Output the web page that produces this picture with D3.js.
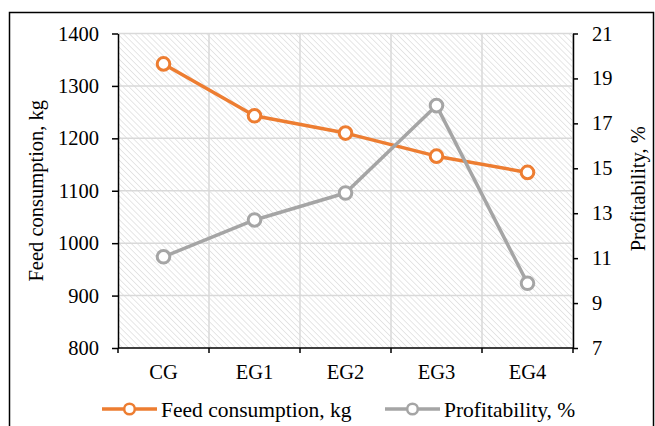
<!DOCTYPE html>
<html>
<head>
<meta charset="utf-8">
<script src="https://cdn.jsdelivr.net/npm/d3@7"></script>
<style>
  body { margin: 0; background: #fff; }
  text { font-family: "Liberation Serif", "Times New Roman", serif; fill: #000; }
</style>
</head>
<body>
<div id="chart"></div>
<script>
// data
const groups = ["CG", "EG1", "EG2", "EG3", "EG4"];
const feed = [1342, 1243, 1210, 1166, 1135]; // Feed consumption, kg
const profit = [11.06, 12.70, 13.90, 17.79, 9.88]; // Profitability, %
const leftTicks = [800, 900, 1000, 1100, 1200, 1300, 1400];
const rightTicks = [7, 9, 11, 13, 15, 17, 19, 21];

let settings = {
  width: 655,
  height: 426,
  marginTop: 33.5,
  marginRight: 82, // plot ends at 573
  marginBottom: 78, // plot bottom at 348
  marginLeft: 118,
  orange: "#ED7D31",
  gray: "#A5A5A5",
  grid: "#d9d9d9",
  tickFont: 20.5,
  labelFont: 21.5,
};

function InitChart(conf) {
  const svg = d3.create("svg")
      .attr("width", conf.width)
      .attr("height", conf.height)
      .attr("viewBox", [0, 0, conf.width, conf.height]);

  // hatched plot background (downward diagonal)
  const defs = svg.append("defs");
  const pat = defs.append("pattern")
      .attr("id", "hatch")
      .attr("patternUnits", "userSpaceOnUse")
      .attr("width", 4.2).attr("height", 4.2)
      .attr("patternTransform", "rotate(-45)");
  pat.append("rect").attr("width", 4.2).attr("height", 4.2).attr("fill", "#fff");
  pat.append("line")
      .attr("x1", 0).attr("y1", 0).attr("x2", 0).attr("y2", 4.2)
      .attr("stroke", "#dadada").attr("stroke-width", 1.3);

  // outer frame
  svg.append("rect")
      .attr("x", 9.5).attr("y", 12.5)
      .attr("width", 644).attr("height", 430)
      .attr("fill", "#fff").attr("stroke", "#000").attr("stroke-width", 1.5);

  const x0 = conf.marginLeft, x1 = conf.width - conf.marginRight;
  const y0 = conf.height - conf.marginBottom, y1 = conf.marginTop;

  const xScale = d3.scaleBand(groups, [x0, x1]);
  const yLeft = d3.scaleLinear([800, 1400], [y0, y1]);
  const yRight = d3.scaleLinear([7, 21], [y0, y1]);

  svg.append("rect")
      .attr("x", x0).attr("y", y1)
      .attr("width", x1 - x0).attr("height", y0 - y1)
      .attr("fill", "url(#hatch)");

  // gridlines
  const grid = svg.append("g").attr("stroke", conf.grid).attr("stroke-width", 1.5);
  grid.selectAll(".h").data(leftTicks.slice(1)).join("line")
      .attr("x1", x0).attr("x2", x1)
      .attr("y1", d => yLeft(d)).attr("y2", d => yLeft(d));
  grid.selectAll(".v").data(d3.range(1, groups.length + 1)).join("line")
      .attr("x1", i => x0 + i * xScale.step())
      .attr("x2", i => x0 + i * xScale.step())
      .attr("y1", y1).attr("y2", y0);

  // axes
  const leftAxis = d3.axisLeft(yLeft).tickValues(leftTicks).tickFormat(d3.format("d"))
      .tickSize(6).tickPadding(13).tickSizeOuter(0);
  const rightAxis = d3.axisRight(yRight).tickValues(rightTicks).tickFormat(d3.format("d"))
      .tickSize(5).tickPadding(14).tickSizeOuter(0);
  const gl = svg.append("g").attr("transform", `translate(${x0},0)`).call(leftAxis);
  const gr = svg.append("g").attr("transform", `translate(${x1},0)`).call(rightAxis);

  const gx = svg.append("g").attr("transform", `translate(0,${y0})`)
      .call(d3.axisBottom(xScale).tickSize(0).tickPadding(16));
  // tick marks at band boundaries
  gx.selectAll(".bt").data(d3.range(groups.length + 1)).join("line")
      .attr("x1", i => x0 + i * xScale.step()).attr("x2", i => x0 + i * xScale.step())
      .attr("y1", 0).attr("y2", 5)
      .attr("stroke", "#000").attr("stroke-width", 1.5);

  [gl, gr, gx].forEach(g => {
    g.selectAll(".domain").attr("stroke", "#000").attr("stroke-width", 1.5);
    g.selectAll(".tick line").attr("stroke", "#000").attr("stroke-width", 1.5);
    g.selectAll("text")
        .attr("font-family", "Liberation Serif, Times New Roman, serif")
        .attr("font-size", conf.tickFont).attr("fill", "#000");
  });
  gx.select(".domain").attr("d", `M${x0},0H${x1}`);

  // axis titles
  svg.append("text")
      .attr("transform", `translate(43,${(y0 + y1) / 2}) rotate(-90)`)
      .attr("text-anchor", "middle")
      .attr("font-size", conf.tickFont)
      .text("Feed consumption, kg");
  svg.append("text")
      .attr("transform", `translate(645,${(y0 + y1) / 2 - 2}) rotate(-90)`)
      .attr("text-anchor", "middle")
      .attr("font-size", conf.tickFont)
      .text("Profitability, %");

  const cx = d => xScale(d) + xScale.bandwidth() / 2;

  function addSeries(values, yScale, color) {
    const line = d3.line()
        .x((d, i) => cx(groups[i]))
        .y(d => yScale(d));
    svg.append("path")
        .attr("d", line(values))
        .attr("fill", "none")
        .attr("stroke", color)
        .attr("stroke-width", 3.5)
        .attr("stroke-linejoin", "round");
    svg.append("g").selectAll("circle").data(values).join("circle")
        .attr("cx", (d, i) => cx(groups[i]))
        .attr("cy", d => yScale(d))
        .attr("r", 6.3)
        .attr("fill", "#fff")
        .attr("stroke", color)
        .attr("stroke-width", 3);
  }
  addSeries(feed, yLeft, conf.orange);
  addSeries(profit, yRight, conf.gray);

  // legend
  const legend = [
    { name: "Feed consumption, kg", color: conf.orange, x: 102 },
    { name: "Profitability, %", color: conf.gray, x: 385 },
  ];
  const ly = 409;
  const lg = svg.append("g").selectAll("g").data(legend).join("g")
      .attr("transform", d => `translate(${d.x},${ly})`);
  lg.append("line")
      .attr("x1", 0).attr("x2", 55).attr("y1", 0).attr("y2", 0)
      .attr("stroke", d => d.color).attr("stroke-width", 3.5);
  lg.append("circle")
      .attr("cx", 27.5).attr("cy", 0).attr("r", 5.3)
      .attr("fill", "#fff").attr("stroke", d => d.color).attr("stroke-width", 2.5);
  lg.append("text")
      .attr("x", 59).attr("y", 0).attr("dy", "0.35em")
      .attr("font-size", conf.labelFont)
      .text(d => d.name);

  d3.select("#chart").node().append(svg.node());
}

InitChart(settings);
</script>
</body>
</html>
